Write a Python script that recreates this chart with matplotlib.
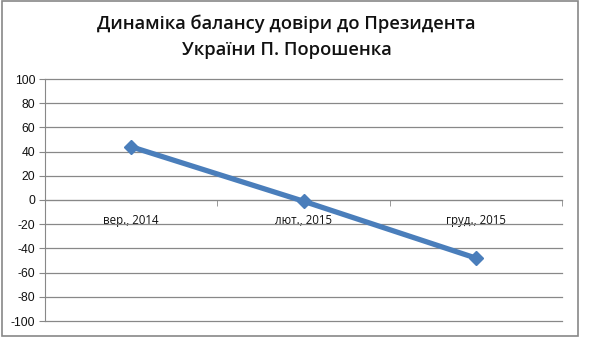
import numpy as np
import matplotlib.pyplot as plt
from matplotlib.patches import Rectangle

# data
categories = ['вер., 2014', 'лют., 2015', 'груд., 2015']
balance = [44, -1, -48]
yticks = list(range(-100, 101, 20))

fig = plt.figure(figsize=(5.98, 3.62), dpi=100)
ax = fig.add_axes([45/598, 1 - 321/362, (562 - 45)/598, (321 - 79)/362])

grid_col = '#888888'
x = np.arange(len(categories))
ax.plot(x, balance, color='#4A7EBB', lw=3.8, marker='D', ms=7,
        mfc='#4A7EBB', mec='#4A7EBB', solid_capstyle='round', zorder=3)

ax.set_xlim(-0.5, len(categories) - 0.5)
ax.set_ylim(-100, 100)
ax.set_yticks(yticks)
ax.set_yticklabels([str(v) for v in yticks])
ax.yaxis.grid(True, color=grid_col, lw=0.9)
for gl in ax.get_ygridlines():
    gl.set_clip_on(False)
ax.set_axisbelow(True)

for s in ['top', 'right']:
    ax.spines[s].set_visible(False)
ax.spines['left'].set_color(grid_col)
ax.spines['bottom'].set_color(grid_col)
ax.spines['bottom'].set_position(('data', 0))

ax.tick_params(axis='y', direction='out', length=4, color=grid_col,
               labelsize=8.7, pad=3, labelcolor='#111111')
for lab in ax.get_yticklabels():
    lab.set_family('Liberation Sans')

ax.set_xticks(x)
ax.set_xticklabels(categories, family='Open Sans', fontsize=8.3, weight='medium',
                   color='#111111')
ax.set_xticks(np.arange(0.5, len(categories), 1), minor=True)
ax.tick_params(axis='x', which='major', length=0, pad=10)
ax.tick_params(axis='x', which='minor', direction='out', length=4, color=grid_col)

fig.text(0.479, 1 - 24/362, 'Динаміка балансу довіри до Президента',
         ha='center', va='center', fontsize=13.2, family='Open Sans',
         weight='semibold', color='#111111')
fig.text(0.479, 1 - 50/362, 'України П. Порошенка',
         ha='center', va='center', fontsize=13.2, family='Open Sans',
         weight='semibold', color='#111111')

fig.patches.append(Rectangle((2/598, 1 - 336/362), 576/598, 335/362,
                             transform=fig.transFigure, fill=False,
                             ec='#888888', lw=1.2))

fig.savefig('out.png', dpi=100)
